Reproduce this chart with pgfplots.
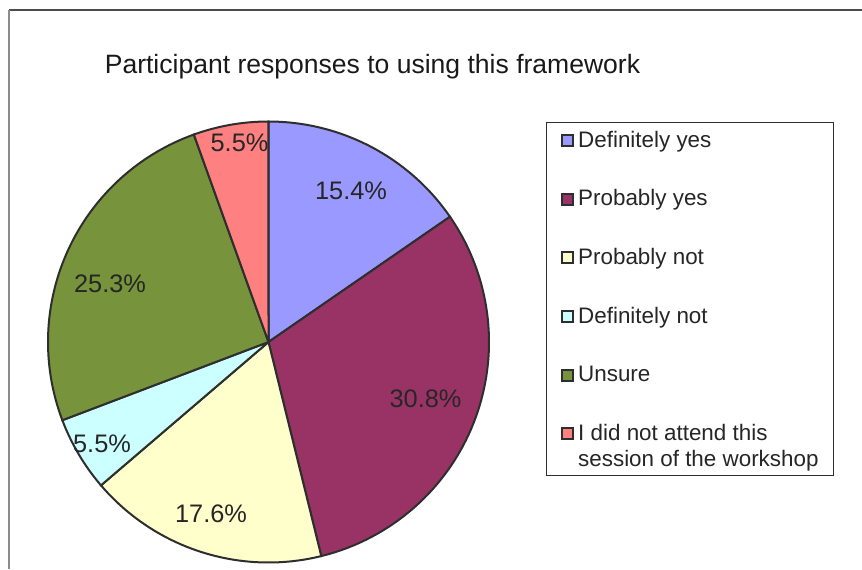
\documentclass[border=0pt]{standalone}
\usepackage{pgfplots}
\pgfplotsset{compat=1.18}
\usepackage{fontspec}
\setmainfont{Liberation Sans}
\definecolor{cDY}{HTML}{9999FF}
\definecolor{cPY}{HTML}{993366}
\definecolor{cPN}{HTML}{FFFFCC}
\definecolor{cDN}{HTML}{CCFFFF}
\definecolor{cUN}{HTML}{77933C}
\definecolor{cNA}{HTML}{FF8080}
\definecolor{edge}{HTML}{2E2E2E}
\definecolor{txt}{HTML}{262626}
\pgfplotsset{
  sqmain/.style={legend image code/.code={\draw[##1, draw=edge, line width=1.5pt] (0.75pt,-3.75pt) rectangle (9.0pt,4.5pt);}},
  sqlast/.style={legend image code/.code={\draw[##1, draw=edge, line width=1.5pt] (0.75pt,4.625pt) rectangle (9.0pt,12.875pt);}},
}
\begin{document}
\begin{tikzpicture}
\path[use as bounding box] (0,0) rectangle (646.5pt,426.75pt);
\begin{axis}[
  at={(0pt,0pt)}, anchor=south west,
  scale only axis, width=646.5pt, height=426.75pt,
  xmin=0, xmax=862, ymin=0, ymax=569,
  hide axis, clip=false,
  legend cell align=left,
  legend style={at={(axis cs:546,447)}, anchor=north west, draw=edge, line width=0.8pt, fill=white,
    inner xsep=11pt, inner ysep=6pt, row sep=27.95pt, column sep=3pt,
    font=\fontsize{16.8}{19.5}\selectfont, text=txt,
    nodes={inner sep=0pt, text height=12.5pt, text depth=3.5pt}},
  sqmain,
  every axis plot/.append style={draw=edge, line width=1.5pt, samples=90, variable=\t},
]
% counts (n = 91): 14, 28, 16, 5, 23, 5 ; cumulative 0,14,42,58,63,86,91
\addplot[fill=cDY, domain=360*0/91:360*14/91] ({268.5+220.5*sin(\t)},{227+220.5*cos(\t)}) -- (axis cs:268.5,227) -- cycle;
\addlegendentry{Definitely yes}
\addplot[fill=cPY, domain=360*14/91:360*42/91] ({268.5+220.5*sin(\t)},{227+220.5*cos(\t)}) -- (axis cs:268.5,227) -- cycle;
\addlegendentry{Probably yes}
\addplot[fill=cPN, domain=360*42/91:360*58/91] ({268.5+220.5*sin(\t)},{227+220.5*cos(\t)}) -- (axis cs:268.5,227) -- cycle;
\addlegendentry{Probably not}
\addplot[fill=cDN, domain=360*58/91:360*63/91] ({268.5+220.5*sin(\t)},{227+220.5*cos(\t)}) -- (axis cs:268.5,227) -- cycle;
\addlegendentry{Definitely not}
\addplot[fill=cUN, domain=360*63/91:360*86/91] ({268.5+220.5*sin(\t)},{227+220.5*cos(\t)}) -- (axis cs:268.5,227) -- cycle;
\addlegendentry{Unsure}
\addplot[fill=cNA, domain=360*86/91:360*91/91, sqlast] ({268.5+220.5*sin(\t)},{227+220.5*cos(\t)}) -- (axis cs:268.5,227) -- cycle;
\addlegendentry[text depth=20.25pt]{\begin{tabular}[t]{@{}l@{}}I did not attend this\\session of the workshop\end{tabular}}

\begin{scope}[font=\fontsize{19}{22}\selectfont]
\node[anchor=base, text=txt] at (axis cs:351,370) {15.4\%};
\node[anchor=base, text=txt] at (axis cs:425.5,162) {30.8\%};
\node[anchor=base, text=txt] at (axis cs:211,47) {17.6\%};
\node[anchor=base, text=txt] at (axis cs:102,117) {5.5\%};
\node[anchor=base, text=txt] at (axis cs:110,277) {25.3\%};
\node[anchor=base, text=txt] at (axis cs:239.5,417) {5.5\%};
\end{scope}
\node[anchor=base, text=black!90, font=\fontsize{19.9}{23}\selectfont] at (axis cs:372.5,495) {Participant responses to using this framework};
\draw[black!70, line width=1.2pt] (axis cs:9,559) -- (axis cs:862,559);
\draw[black!45, line width=1.5pt] (axis cs:9,559) -- (axis cs:9,0);
\end{axis}
\end{tikzpicture}
\end{document}
